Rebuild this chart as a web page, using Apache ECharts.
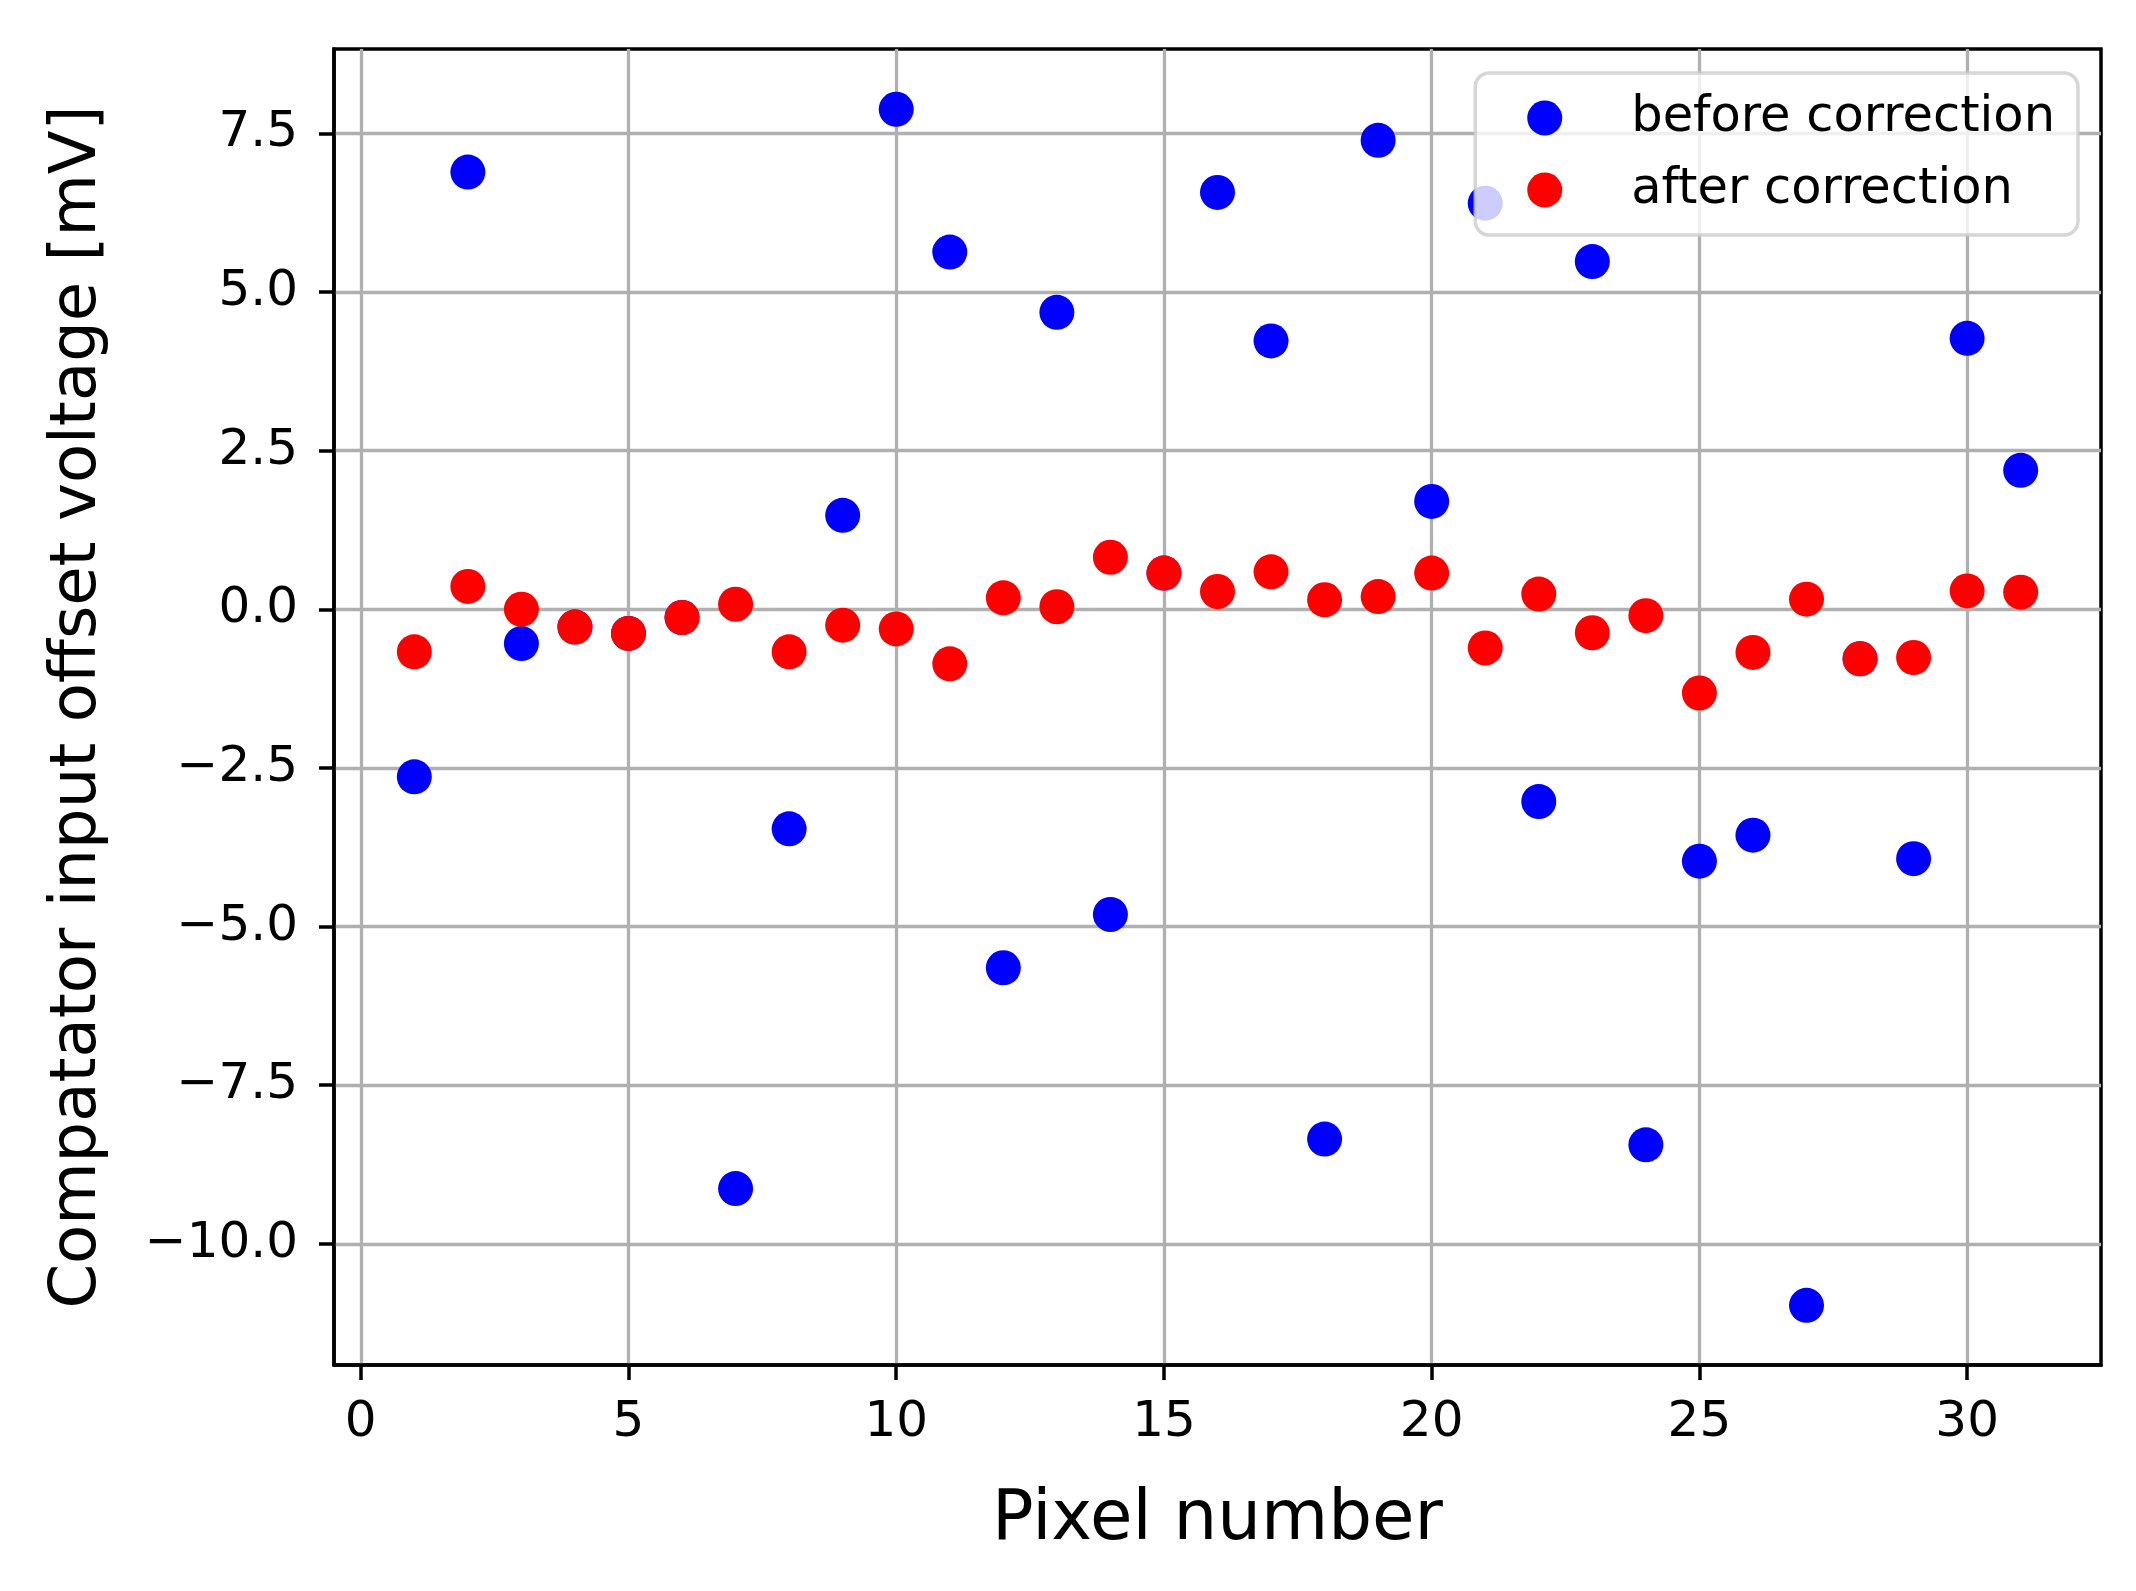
<!DOCTYPE html>
<html>
<head>
<meta charset="utf-8">
<script src="https://cdn.jsdelivr.net/npm/echarts@6/dist/echarts.min.js"></script>
<style>
  html, body { margin: 0; padding: 0; background: #fff; }
  #container { width: 2136px; height: 1591px; }
</style>
</head>
<body>
<div id="container"></div>
<script>
// pixel index 1..31
let pixels = [1, 2, 3, 4, 5, 6, 7, 8, 9, 10, 11, 12, 13, 14, 15, 16,
    17, 18, 19, 20, 21, 22, 23, 24, 25, 26, 27, 28, 29, 30, 31];

let beforeCorrection = [-2.64, 6.89, -0.54, -0.28, -0.38, -0.13, -9.13, -3.46, 1.48, 7.88,
    5.63, -5.65, 4.68, -4.81, 0.57, 6.57, 4.23, -8.35, 7.39, 1.70,
    6.40, -3.03, 5.48, -8.44, -3.97, -3.56, -10.97, -0.78, -3.93, 4.27, 2.19];

let afterCorrection = [-0.67, 0.36, 0.0, -0.28, -0.38, -0.13, 0.08, -0.67, -0.25, -0.31,
    -0.86, 0.18, 0.04, 0.82, 0.57, 0.28, 0.59, 0.15, 0.20, 0.57,
    -0.61, 0.24, -0.37, -0.10, -1.32, -0.68, 0.16, -0.78, -0.76, 0.29, 0.27];

let xTicks = [0, 5, 10, 15, 20, 25, 30];
let yTicks = [-10, -7.5, -5, -2.5, 0, 2.5, 5, 7.5];

let font = 'DejaVu Sans';

function pairs(ys) {
    return pixels.map((p, i) => [p, ys[i]]);
}

function fmtY(v) {
    return (v < 0 ? '\u2212' : '') + Math.abs(v).toFixed(1);
}

var dom = document.getElementById('container');
var myChart = echarts.init(dom, null, { renderer: 'canvas' });

var option = {
    backgroundColor: '#fff',
    animation: false,
    grid: {
        left: 334,
        right: 35,
        top: 49,
        bottom: 226,
        show: true,
        borderColor: '#000',
        borderWidth: 3.5,
        backgroundColor: 'transparent'
    },
    legend: {
        orient: 'vertical',
        right: 58,
        top: 73,
        icon: 'circle',
        itemWidth: 35,
        itemHeight: 35,
        itemGap: 22,
        padding: [20, 23, 20, 52],
        backgroundColor: 'rgba(255,255,255,0.8)',
        borderColor: 'rgba(204,204,204,0.8)',
        borderWidth: 3.5,
        borderRadius: 14,
        textStyle: {
            fontFamily: font,
            fontSize: 49.5,
            color: '#000',
            lineHeight: 38,
            padding: [0, 0, 0, 64]
        },
        data: ['before correction', 'after correction']
    },
    xAxis: {
        type: 'value',
        min: -0.5,
        max: 32.5,
        name: 'Pixel number',
        nameLocation: 'middle',
        nameGap: 122,
        nameTextStyle: { fontFamily: font, fontSize: 69, color: '#000' },
        axisLine: { show: true, onZero: false, lineStyle: { color: '#000', width: 3.5 } },
        axisTick: {
            show: true, inside: false, length: 15,
            lineStyle: { color: '#000', width: 3.5 },
            customValues: xTicks
        },
        axisLabel: {
            fontFamily: font, fontSize: 50, color: '#000', margin: 33,
            customValues: xTicks,
            formatter: v => String(v)
        },
        splitLine: { show: true, lineStyle: { color: '#b0b0b0', width: 3.3 } }
    },
    yAxis: {
        type: 'value',
        min: -11.91,
        max: 8.83,
        name: 'Compatator input offset voltage [mV]',
        nameLocation: 'middle',
        nameGap: 224,
        nameTextStyle: { fontFamily: font, fontSize: 64, color: '#000' },
        axisLine: { show: true, onZero: false, lineStyle: { color: '#000', width: 3.5 } },
        axisTick: {
            show: true, inside: false, length: 15,
            lineStyle: { color: '#000', width: 3.5 },
            customValues: yTicks
        },
        axisLabel: {
            fontFamily: font, fontSize: 50, color: '#000', margin: 36,
            customValues: yTicks,
            formatter: fmtY
        },
        splitLine: { show: true, lineStyle: { color: '#b0b0b0', width: 3.3 } }
    },
    series: [
        {
            name: 'before correction',
            type: 'scatter',
            symbol: 'circle',
            symbolSize: 35,
            itemStyle: { color: '#0000ff', opacity: 1 },
            data: pairs(beforeCorrection)
        },
        {
            name: 'after correction',
            type: 'scatter',
            symbol: 'circle',
            symbolSize: 35,
            itemStyle: { color: '#ff0000', opacity: 1 },
            data: pairs(afterCorrection)
        }
    ]
};

myChart.setOption(option);
window.addEventListener('resize', myChart.resize);
</script>
</body>
</html>
